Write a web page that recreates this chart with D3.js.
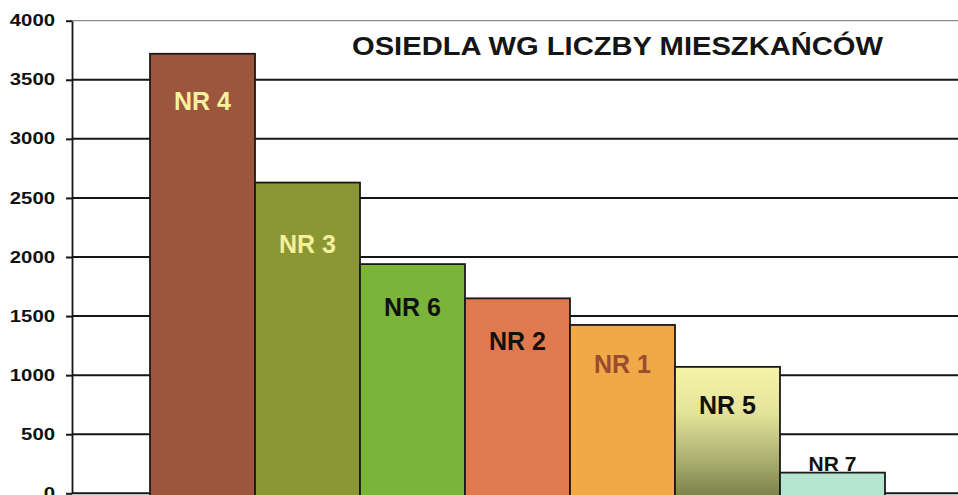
<!DOCTYPE html>
<html>
<head>
<meta charset="utf-8">
<script src="https://cdn.jsdelivr.net/npm/d3@7"></script>
<style>
  html, body { margin: 0; padding: 0; background: #ffffff; }
  svg { display: block; }
</style>
</head>
<body>
<svg id="chart" width="958" height="495"></svg>
<script>
// ---- data ----
const categories = ["NR 4", "NR 3", "NR 6", "NR 2", "NR 1", "NR 5", "NR 7"];
const residents = [3720, 2630, 1940, 1650, 1425, 1070, 175];
const yTickValues = [0, 500, 1000, 1500, 2000, 2500, 3000, 3500, 4000];
const title = "OSIEDLA WG LICZBY MIESZKAŃCÓW";

// ---- styles ----
const barColors = ["#9c563d", "#8b9733", "#7ab43a", "#e0794d", "#f0a947", "url(#gradNR5)", "#b6e5cf"];
const labelColors = ["#f6f19c", "#f3ef9f", "#111111", "#111111", "#9a4b30", "#111111", "#111111"];
const labelDy = [56, 70, 52, 52, 48, 47, -2];
const labelSizes = [25, 25, 25, 25, 25, 25, 21];

const W = 958, H = 495;
const svg = d3.select("#chart");

const defs = svg.append("defs");
const g5 = defs.append("linearGradient").attr("id", "gradNR5")
  .attr("x1", 0).attr("y1", 0).attr("x2", 0).attr("y2", 1);
g5.append("stop").attr("offset", "0%").attr("stop-color", "#f6f4a8");
g5.append("stop").attr("offset", "35%").attr("stop-color", "#e4e39a");
g5.append("stop").attr("offset", "70%").attr("stop-color", "#adb172");
g5.append("stop").attr("offset", "100%").attr("stop-color", "#79814a");

const y = d3.scaleLinear().domain([0, 4000]).range([493.3, 20.7]);
const x = d3.scaleBand().domain(categories).range([72, 963])
  .paddingInner(0).paddingOuter(0.743);

// gridlines
svg.append("g").selectAll("line").data(yTickValues).join("line")
  .attr("x1", 72).attr("x2", W)
  .attr("y1", d => y(d)).attr("y2", d => y(d))
  .attr("stroke", d => d === 4000 ? "#8a8a8a" : "#161616")
  .attr("stroke-width", d => d === 4000 ? 1.2 : 2);

// y axis
const axis = svg.append("g").attr("transform", "translate(72,0)")
  .call(d3.axisLeft(y).tickValues(yTickValues).tickFormat(d3.format("d"))
    .tickSize(6).tickSizeOuter(0).tickPadding(11));
axis.select(".domain").attr("stroke", "#161616").attr("stroke-width", 1.8);
axis.selectAll(".tick line").attr("stroke", "#161616").attr("stroke-width", 2);
axis.selectAll(".tick text")
  .attr("font-family", "'Liberation Sans', Arial, sans-serif")
  .attr("font-size", 16).attr("font-weight", "bold").attr("fill", "#111")
  .attr("textLength", d => String(d).length * 11.3)
  .attr("lengthAdjust", "spacingAndGlyphs");

// bars
svg.append("g").selectAll("rect").data(categories).join("rect")
  .attr("x", d => x(d))
  .attr("y", (d, i) => y(residents[i]))
  .attr("width", x.bandwidth())
  .attr("height", (d, i) => y(0) - y(residents[i]) + 4)
  .attr("fill", (d, i) => barColors[i])
  .attr("stroke", "#1a1a1a").attr("stroke-width", 1.8);

// bar labels
svg.append("g").selectAll("text").data(categories).join("text")
  .attr("x", d => x(d) + x.bandwidth() / 2)
  .attr("y", (d, i) => y(residents[i]) + labelDy[i])
  .attr("text-anchor", "middle")
  .attr("font-family", "'Liberation Sans', Arial, sans-serif")
  .attr("font-weight", "bold")
  .attr("font-size", (d, i) => labelSizes[i])
  .attr("fill", (d, i) => labelColors[i])
  .text(d => d);

// title
svg.append("text")
  .attr("x", 617.5).attr("y", 55)
  .attr("text-anchor", "middle")
  .attr("font-family", "'Liberation Sans', Arial, sans-serif")
  .attr("font-weight", "bold").attr("font-size", 26)
  .attr("fill", "#151515")
  .attr("textLength", 531).attr("lengthAdjust", "spacingAndGlyphs")
  .text(title);
</script>
</body>
</html>
